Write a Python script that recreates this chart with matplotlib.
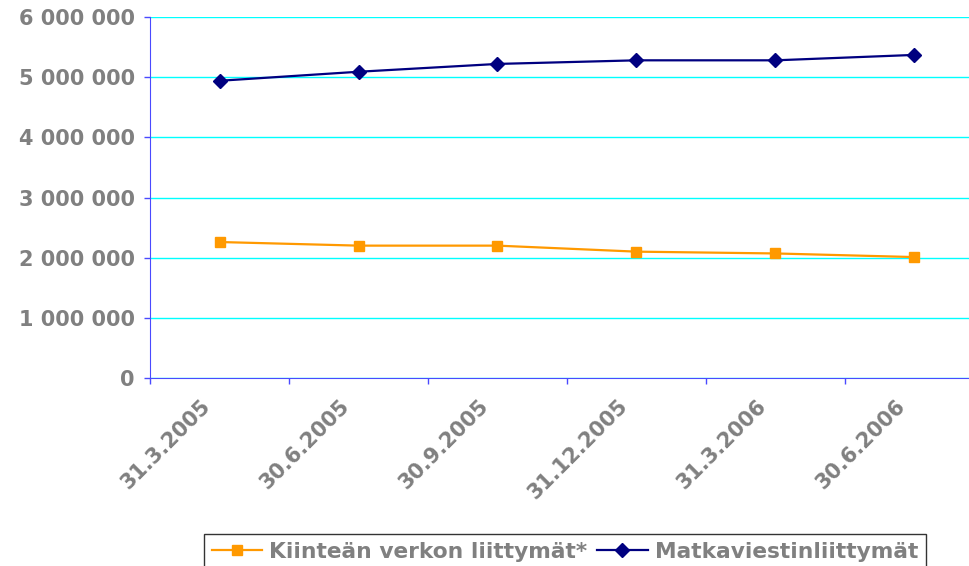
import matplotlib.pyplot as plt
import matplotlib.ticker as mticker
import matplotlib.transforms as mtrans
import numpy as np

plt.rcParams["font.family"] = ["DejaVu Sans"]

# Data
dates = ["31.3.2005", "30.6.2005", "30.9.2005", "31.12.2005", "31.3.2006", "30.6.2006"]
kiintea = [2260000, 2200000, 2200000, 2100000, 2070000, 2010000]
matka = [4940000, 5090000, 5220000, 5280000, 5280000, 5370000]
yticks = [0, 1000000, 2000000, 3000000, 4000000, 5000000, 6000000]

grey = "#808080"
spine_blue = "#4a4aff"

fig = plt.figure(figsize=(9.7, 5.66), dpi=100)
# plot area runs past the right edge of the picture, as in the reference
ax = fig.add_axes([150 / 970, 1 - 378 / 566, 834 / 970, 361 / 566])

x = np.arange(len(dates))
l1, = ax.plot(x, kiintea, color="#ff9900", lw=1.6, marker="s", ms=7.5,
              label="Kiinteän verkon liittymät*")
l2, = ax.plot(x, matka, color="#000080", lw=1.6, marker="D", ms=7.5,
              label="Matkaviestinliittymät")

ax.set_xlim(-0.5, len(dates) - 0.5)
ax.set_ylim(0, 6000000)

# y axis
ax.set_yticks(yticks)
ax.yaxis.set_major_formatter(mticker.FuncFormatter(lambda v, p: f"{int(v):,}".replace(",", " ")))
ax.grid(axis="y", color="#00ffff", lw=1)
ax.set_axisbelow(True)

# x axis: tick marks between categories, labels at centres
ax.set_xticks(np.arange(-0.5, len(dates), 1.0))
ax.set_xticklabels([])
ax.set_xticks(x, minor=True)
ax.set_xticklabels(dates, minor=True, rotation=45, ha="right", va="center",
                   rotation_mode="anchor")
ax.tick_params(axis="x", which="minor", length=0, pad=18)
ax.tick_params(axis="both", which="major", direction="out", length=4,
               color=spine_blue, width=1)
ax.tick_params(axis="y", pad=7)

shift = mtrans.ScaledTranslation(-12 / 100, 0, fig.dpi_scale_trans)
for lab in ax.get_xticklabels(minor=True):
    lab.set_transform(lab.get_transform() + shift)

for lab in ax.get_yticklabels() + ax.get_xticklabels(minor=True):
    lab.set_fontweight("bold")
    lab.set_color(grey)
    lab.set_fontsize(15)

ax.spines["top"].set_visible(False)
ax.spines["right"].set_visible(False)
ax.spines["left"].set_color(spine_blue)
ax.spines["bottom"].set_color(spine_blue)

leg = fig.legend(handles=[l1, l2], loc="upper left",
                 bbox_to_anchor=(204 / 970, 1 - 534 / 566),
                 ncol=2, frameon=True, fancybox=False, borderaxespad=0,
                 handlelength=2.3, handletextpad=0.35, columnspacing=0.45,
                 borderpad=0.35,
                 prop={"weight": "bold", "size": 15.7})
leg.get_frame().set_edgecolor("black")
leg.get_frame().set_linewidth(1)
for t in leg.get_texts():
    t.set_color(grey)

plt.savefig("out.png", dpi=100)
